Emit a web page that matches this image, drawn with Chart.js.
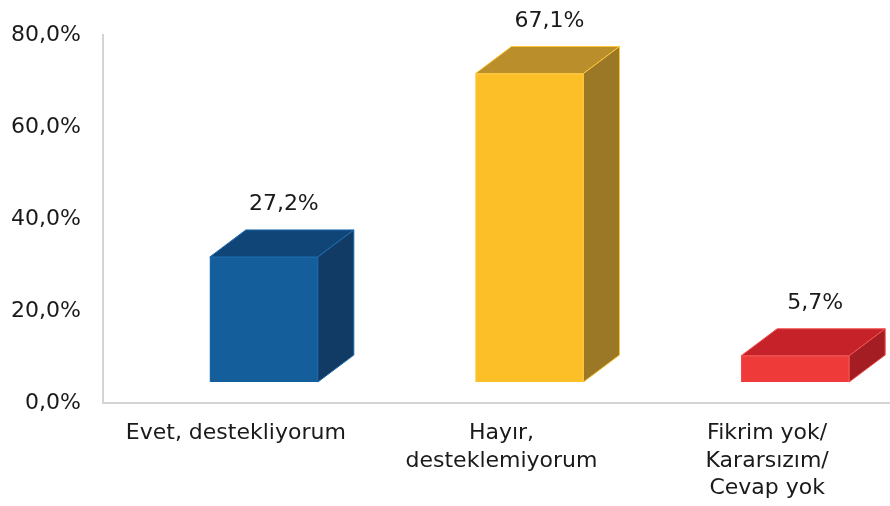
<!DOCTYPE html>
<html>
<head>
<meta charset="utf-8">
<script src="https://cdn.jsdelivr.net/npm/chart.js@4.4.1/dist/chart.umd.min.js"></script>
<style>
    html, body { margin: 0; padding: 0; background: #ffffff; }
    #wrap { width: 890px; height: 506px; position: relative; }
</style>
</head>
<body>
<div id="wrap"><canvas id="chart"></canvas></div>
<script>
var categories = [
    'Evet, destekliyorum',
    ['Hayır,', 'desteklemiyorum'],
    ['Fikrim yok/', 'Kararsızım/', 'Cevap yok']
];
var values = [27.2, 67.1, 5.7];
var tickValues = [0, 20, 40, 60, 80];

var frontColors = ['#155e9c', '#fdbf28', '#ee3a39'];
var topColors = ['#0f4677', '#ba8e2a', '#c62229'];
var sideColors = ['#113b64', '#9b7826', '#a41d22'];
var edgeColors = ['#1c6aaf', '#fcc63a', '#f25050'];

var SHIFT_X = 28, SHIFT_Y = -21;   // front face sits off the axis
var DEPTH_X = 36, DEPTH_Y = -27;   // depth of the boxes
var X_OVERHANG = 10;               // category axis runs a bit past the canvas edge
var FONT = '"DejaVu Sans"';

function pct(v) {
    return v.toFixed(1).replace('.', ',') + '%';
}

var box3d = {
    id: 'box3d',
    afterLayout: function (chart) {
        var xs = chart.scales.x;
        xs.right += X_OVERHANG;
        xs.width += X_OVERHANG;
        xs.configure();
    },
    beforeDatasetsDraw: function (chart) {
        chart.ctx.save();
        chart.ctx.translate(SHIFT_X, SHIFT_Y);
    },
    afterDatasetsDraw: function (chart) {
        var ctx = chart.ctx;
        var meta = chart.getDatasetMeta(0);
        meta.data.forEach(function (bar, i) {
            var l = bar.x - bar.width / 2, r = bar.x + bar.width / 2;
            var t = bar.y, b = bar.base;
            ctx.lineWidth = 1;
            ctx.strokeStyle = edgeColors[i];
            // top face
            ctx.beginPath();
            ctx.moveTo(l, t);
            ctx.lineTo(l + DEPTH_X, t + DEPTH_Y);
            ctx.lineTo(r + DEPTH_X, t + DEPTH_Y);
            ctx.lineTo(r, t);
            ctx.closePath();
            ctx.fillStyle = topColors[i];
            ctx.fill();
            ctx.stroke();
            // side face
            ctx.beginPath();
            ctx.moveTo(r, t);
            ctx.lineTo(r + DEPTH_X, t + DEPTH_Y);
            ctx.lineTo(r + DEPTH_X, b + DEPTH_Y);
            ctx.lineTo(r, b);
            ctx.closePath();
            ctx.fillStyle = sideColors[i];
            ctx.fill();
            ctx.stroke();
            // value label
            ctx.fillStyle = '#1a1a1a';
            ctx.font = '22px ' + FONT;
            ctx.textAlign = 'center';
            ctx.textBaseline = 'alphabetic';
            ctx.fillText(pct(values[i]), bar.x + 20, t + DEPTH_Y - 20);
        });
        ctx.restore();
    }
};

var ctx = document.getElementById('chart').getContext('2d');
var myChart = new Chart(ctx, {
    type: 'bar',
    data: {
        labels: categories,
        datasets: [{
            data: values,
            backgroundColor: frontColors,
            borderColor: edgeColors,
            borderWidth: 1,
            barThickness: 108
        }]
    },
    options: {
        responsive: true,
        maintainAspectRatio: false,
        animation: false,
        layout: { padding: { top: 35, right: 0, left: 0, bottom: 0 } },
        plugins: {
            legend: { display: false },
            tooltip: { enabled: false }
        },
        scales: {
            x: {
                grid: { display: false, drawTicks: false },
                border: { display: true, color: '#d4d4d4', width: 2 },
                ticks: {
                    color: '#1a1a1a',
                    padding: 17,
                    maxRotation: 0,
                    autoSkip: false,
                    font: { family: 'DejaVu Sans', size: 22, lineHeight: 1.25 }
                },
                afterFit: function (s) { s.height = 103; }
            },
            y: {
                min: 0,
                max: 80,
                afterBuildTicks: function (s) {
                    s.ticks = tickValues.map(function (v) { return { value: v }; });
                },
                grid: { display: false, drawTicks: false },
                border: { display: true, color: '#d4d4d4', width: 2 },
                ticks: {
                    color: '#1a1a1a',
                    padding: 22,
                    font: { family: 'DejaVu Sans', size: 22 },
                    callback: function (v) { return pct(v); }
                },
                afterFit: function (s) { s.width = 103; }
            }
        }
    },
    plugins: [box3d]
});
</script>
</body>
</html>
